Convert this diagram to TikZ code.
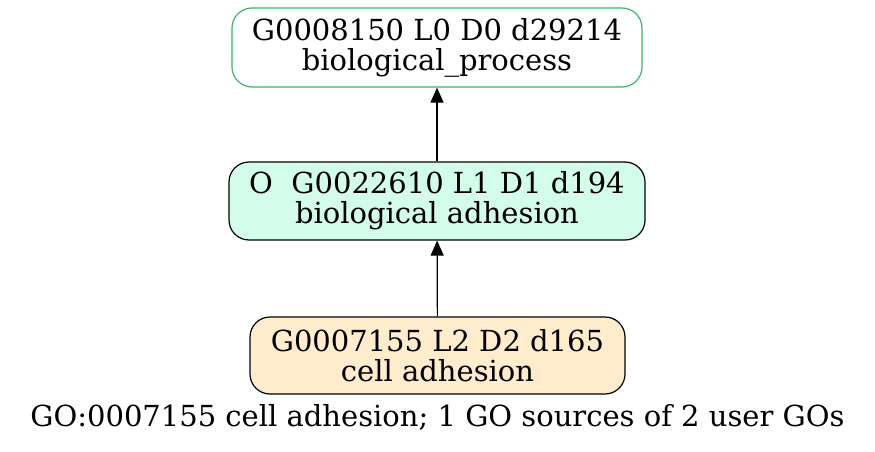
\documentclass[tikz,border=0pt]{standalone}
\usepackage{fontspec}
\setmainfont{DejaVu Serif}
\usetikzlibrary{arrows.meta}
\definecolor{gogreen}{HTML}{3CB371}
\definecolor{gomint}{HTML}{D4FCEA}
\definecolor{gopeach}{HTML}{FFECCC}
\begin{document}
\begin{tikzpicture}[x=1pt,y=-1pt,
  gonode/.style={draw, rounded corners=20pt, line width=1.2pt, align=center,
    inner sep=0pt, font=\fontsize{29}{30}\selectfont},
  goedge/.style={-{Triangle[length=15pt,width=13pt]}, line width=1.2pt},
  caption/.style={font=\fontsize{29}{30}\selectfont}]
\useasboundingbox (0,0) rectangle (875,452);
\node[gonode, draw=gogreen, fill=white, minimum width=410pt, minimum height=79pt] (n1) at (437,47.5)
  {G0008150 L0 D0 d29214\\biological\_process};
\node[gonode, fill=gomint, minimum width=416pt, minimum height=78pt] (n2) at (437,201)
  {O\ \ G0022610 L1 D1 d194\\biological adhesion};
\node[gonode, fill=gopeach, minimum width=375pt, minimum height=77pt] (n3) at (437.5,355.5)
  {G0007155 L2 D2 d165\\cell adhesion};
\node[caption] (cap) at (437.5,417) {GO:0007155 cell adhesion; 1 GO sources of 2 user GOs};
\draw[goedge] (n2) -- (n1);
\draw[goedge] (n3) -- (n2);
\end{tikzpicture}
\end{document}
